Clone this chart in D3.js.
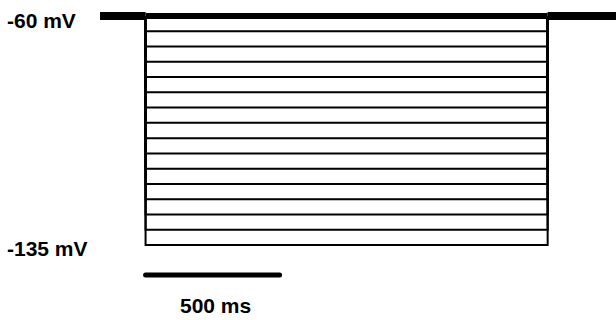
<!DOCTYPE html>
<html>
<head>
<meta charset="utf-8">
<script src="https://cdn.jsdelivr.net/npm/d3@7"></script>
<style>
  html, body { margin: 0; padding: 0; background: #fff; }
  svg { display: block; }
  text { font-family: "Liberation Sans", Arial, sans-serif; font-weight: bold; fill: #000; }
</style>
</head>
<body>
<svg id="chart" width="616" height="320"></svg>
<script>
// Voltage-clamp step protocol: hold at -60 mV, step to each test level, return to holding.
const holdingPotential = -60;                 // mV
const stepLevels = [-60, -65, -70, -75, -80, -85, -90, -95,
                    -100, -105, -110, -115, -120, -125, -130, -135]; // mV
const protocolTimes = [0, 170, 1670, 1925];   // trace start, step on, step off, trace end (ms)
const scaleBarMs = 500;
const voltageLabels = ["-60 mV", "-135 mV"];
const voltageLabelValues = [-60, -135];
const timeLabel = "500 ms";

const svg = d3.select("#chart");

const x = d3.scaleLinear().domain([0, 1925]).range([100, 616]);
const y = d3.scaleLinear().domain([-60, -135]).range([16, 245]);

const [tStart, tOn, tOff, tEnd] = protocolTimes;

const line = d3.line().x(d => x(d[0])).y(d => y(d[1]));

// One sweep per test potential
svg.append("g")
  .selectAll("path")
  .data(stepLevels)
  .join("path")
  .attr("d", v => line([[tOn, holdingPotential], [tOn, v], [tOff, v], [tOff, holdingPotential]]))
  .attr("fill", "none")
  .attr("stroke", "#000")
  .attr("stroke-width", v => v === holdingPotential ? 6 : 2);

// Holding segments before and after the step (all sweeps overlap here)
svg.append("g")
  .selectAll("path")
  .data([[tStart, tOn], [tOff, tEnd]])
  .join("path")
  .attr("d", d => line([[d[0], holdingPotential], [d[1], holdingPotential]]))
  .attr("fill", "none")
  .attr("stroke", "#000")
  .attr("stroke-width", 8);

// Voltage labels
svg.append("g")
  .selectAll("text")
  .data(voltageLabels)
  .join("text")
  .attr("x", 7)
  .attr("y", (d, i) => y(voltageLabelValues[i]) + (i === 0 ? 12 : 11))
  .attr("font-size", 21)
  .text(d => d);

// Time scale bar
const barY = 275;
svg.append("line")
  .attr("x1", x(tOn))
  .attr("x2", x(tOn + scaleBarMs))
  .attr("y1", barY)
  .attr("y2", barY)
  .attr("stroke", "#000")
  .attr("stroke-width", 5)
  .attr("stroke-linecap", "round");

svg.append("text")
  .attr("x", (x(tOn) + x(tOn + scaleBarMs)) / 2 + 3)
  .attr("y", 313)
  .attr("text-anchor", "middle")
  .attr("font-size", 21)
  .text(timeLabel);
</script>
</body>
</html>
